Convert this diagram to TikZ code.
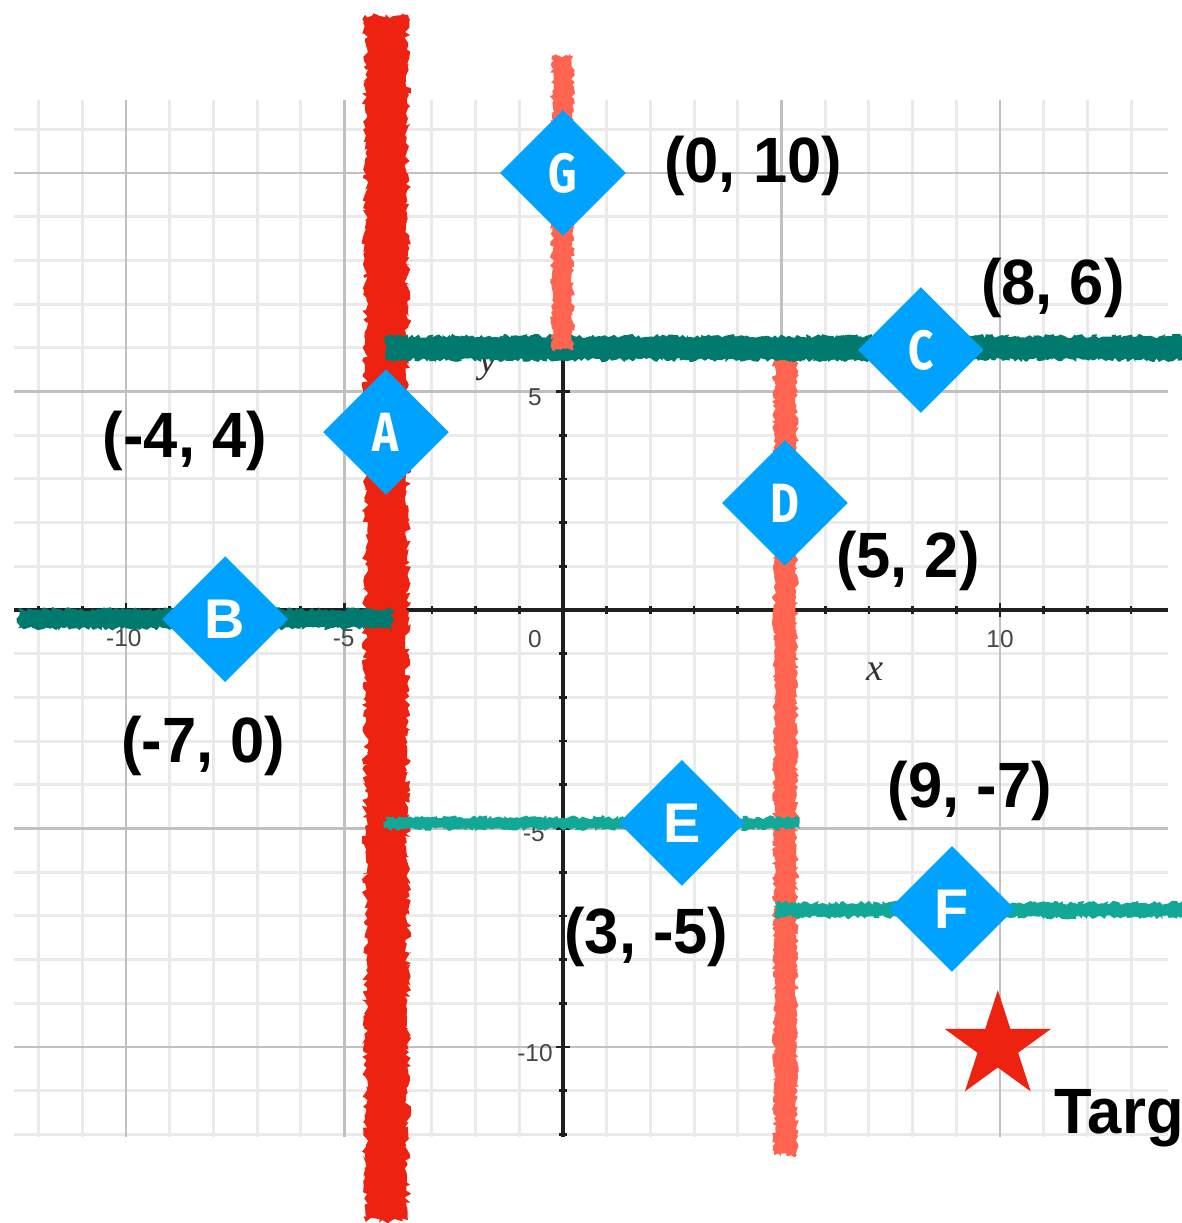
\documentclass[tikz,border=0pt]{standalone}
\usepackage{fontspec}
\setmainfont{Liberation Sans}
\newfontfamily\lblfont[FakeStretch=0.96]{Liberation Sans}
\newfontfamily\condfont[FakeStretch=0.8]{Fira Sans}
\newfontfamily\serffont{Liberation Serif}
\usetikzlibrary{shapes.geometric,decorations.pathmorphing}
\definecolor{chalkred}{RGB}{238,34,17}
\definecolor{chalkorange}{RGB}{255,100,80}
\definecolor{darkteal}{RGB}{0,122,110}
\definecolor{lightteal}{RGB}{18,168,152}
\definecolor{diablue}{RGB}{0,162,255}
\definecolor{minorgray}{RGB}{234,234,234}
\definecolor{majorgray}{RGB}{192,192,192}
\definecolor{ticklabel}{RGB}{70,70,70}
\tikzset{
  minorgrid/.style={draw=minorgray, line width=1.9pt},
  majorgrid/.style={draw=majorgray, line width=1.9pt},
  axisline/.style={draw=black!88, line width=2.2pt},
  tickmark/.style={draw=black!88, line width=1.8pt},
  chalk/.style={decorate, decoration={random steps, segment length=1.6pt, amplitude=1.4pt}},
  chalkbig/.style={decorate, decoration={random steps, segment length=2pt, amplitude=2.2pt}},
  pt/.style={diamond, shape aspect=1, fill=diablue, inner sep=0pt,
    minimum width=2.88cm, minimum height=2.88cm, text=white},
  letA/.style={font=\condfont\bfseries\fontsize{36}{36}\selectfont},
  letB/.style={font=\bfseries\fontsize{36.4}{36.4}\selectfont},
  coord/.style={anchor=base, font=\lblfont\bfseries\fontsize{41.7}{41.7}\selectfont, text=black, inner sep=0pt},
  tlab/.style={font=\fontsize{15.9}{15.9}\selectfont, text=ticklabel, inner sep=0pt},
}
\begin{document}
\begin{tikzpicture}
\useasboundingbox (-12.883,-14.027) rectangle (14.142,13.959);
% grid
\draw[minorgrid] (-12.56,-12.06) grid (13.84,11.67);
\draw[majorgrid] (-12.56,-12.06) grid[step=5] (13.84,11.67);
% axes
\draw[axisline] (-12.56,0) -- (13.84,0);
\draw[axisline] (0,-12.06) -- (0,6);
\foreach \i in {-12,...,13} {
  \ifnum\i=0\else
  \pgfmathtruncatemacro{\m}{mod(abs(\i),5)}
  \ifnum\m=0
    \draw[tickmark] (\i,-0.16) -- (\i,0.16);
  \else
    \draw[tickmark] (\i,-0.1) -- (\i,0.1);
  \fi\fi
}
\foreach \j in {-12,...,5} {
  \ifnum\j=0\else
  \pgfmathtruncatemacro{\m}{mod(abs(\j),5)}
  \ifnum\m=0
    \draw[tickmark] (-0.16,\j) -- (0.16,\j);
  \else
    \draw[tickmark] (-0.1,\j) -- (0.1,\j);
  \fi\fi
}
% tick labels
\node[tlab, anchor=base] (tx1) at (-10.05,-0.83) {-10};
\node[tlab, anchor=base] (tx2) at (-5.02,-0.83) {-5};
\node[tlab, anchor=base] (tx0) at (-0.64,-0.85) {0};
\node[tlab, anchor=base] (tx3) at (10.0,-0.85) {10};
\node[tlab, anchor=base east] (ty1) at (-0.48,4.67) {5};
\node[tlab, anchor=base east] (ty2) at (-0.41,-5.29) {-5};
\node[tlab, anchor=base east] (ty3) at (-0.23,-10.32) {-10};
\node[font=\serffont\itshape\fontsize{25}{25}\selectfont, text=black!80, inner sep=0pt] (xl) at (7.14,-1.42) {x};
\node[font=\serffont\itshape\fontsize{25}{25}\selectfont, text=black!80, inner sep=0pt] (yl) at (-1.72,5.55) {y};
% chalk lines
\fill[chalkred, chalkbig] (-4.53,-13.96) rectangle (-3.55,13.62);
\fill[chalkorange, chalk] (4.83,-12.47) rectangle (5.35,6.06);
\fill[darkteal, chalk] (-4.07,5.72) rectangle (14.3,6.27);
\fill[darkteal, chalk] (-12.47,-0.42) rectangle (-3.91,0.02);
\fill[lightteal, chalk] (-4.07,-5.01) rectangle (5.42,-4.74);
\fill[lightteal, chalk] (4.85,-7.03) rectangle (14.3,-6.70);
\fill[chalkorange, chalk] (-0.25,5.95) rectangle (0.23,12.68);
% diamonds
\node[pt, letA] (G) at (0,10) {G};
\node[pt, letA] (C) at (8.19,5.95) {C};
\node[pt, letA] (A) at (-4.05,4.07) {A};
\node[pt, letA] (D) at (5.08,2.45) {D};
\node[pt, letB] (B) at (-7.73,-0.21) {B};
\node[pt, letB] (E) at (2.72,-4.87) {E};
\node[pt, letB] (F) at (8.9,-6.84) {F};
% coordinate labels
\node[coord] (lG) at (4.35,9.79) {(0, 10)};
\node[coord] (lC) at (11.21,6.98) {(8, 6)};
\node[coord] (lA) at (-8.65,3.50) {(-4, 4)};
\node[coord] (lD) at (7.89,0.755) {(5, 2)};
\node[coord] (lB) at (-8.23,-3.48) {(-7, 0)};
\node[coord] (lF) at (9.31,-4.53) {(9, -7)};
\node[coord] (lE) at (1.91,-7.85) {(3, -5)};
% target
\node[star, star points=5, star point ratio=2.618, fill=chalkred, inner sep=0pt, minimum size=2.56cm] (target) at (9.95,-9.98) {};
\node[coord, anchor=base west] (tlabel) at (11.25,-11.97) {Targ};
\end{tikzpicture}
\end{document}
